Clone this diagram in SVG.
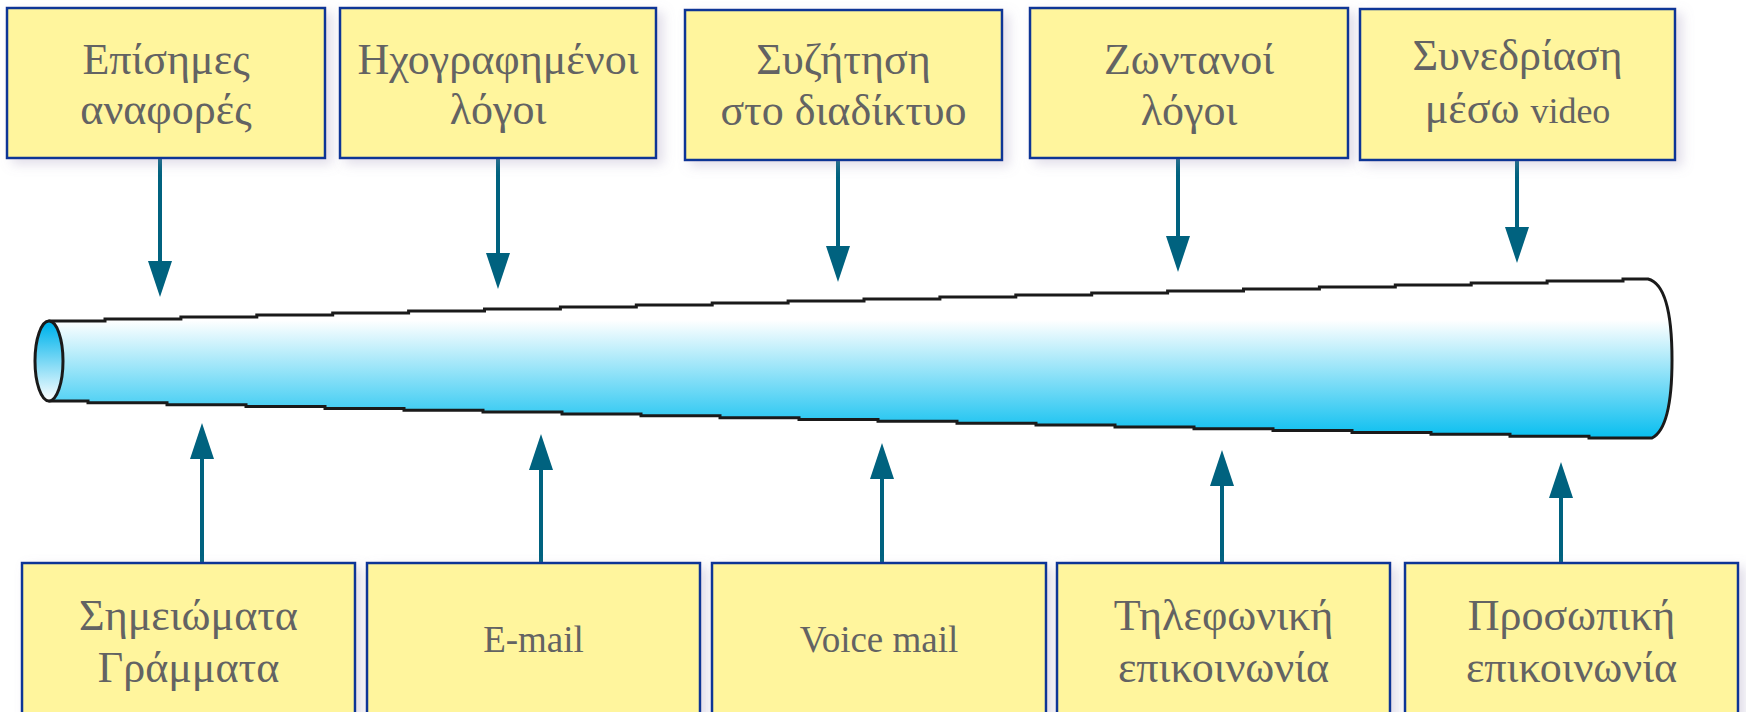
<svg xmlns="http://www.w3.org/2000/svg" width="1746" height="712" viewBox="0 0 1746 712">
<style>
.box{fill:#fff59d;stroke:#0a3596;stroke-width:2.5}
.gr{font-family:"Liberation Serif","DejaVu Serif",serif;font-size:44px;fill:#636363;text-anchor:middle}
.la{font-family:"Liberation Serif","DejaVu Serif",serif;font-size:37px;fill:#636363;text-anchor:middle}
.conn{stroke:#00627f;stroke-width:4;fill:none;marker-end:url(#ah)}
</style>
<defs>
<marker id="ah" markerUnits="userSpaceOnUse" markerWidth="36" markerHeight="24" viewBox="0 0 36 24" refX="28" refY="12" orient="auto">
<path d="M0,0 L36,12 L0,24 Z" fill="#00627f"/>
</marker>
<linearGradient id="tubeg" gradientUnits="userSpaceOnUse" x1="0" y1="320" x2="0" y2="442">
<stop offset="0" stop-color="#ffffff"/>
<stop offset="1" stop-color="#00bcef"/>
</linearGradient>
<linearGradient id="endg" x1="0" y1="0" x2="0" y2="1">
<stop offset="0.05" stop-color="#00b4ec"/>
<stop offset="1" stop-color="#ffffff"/>
</linearGradient>
<filter id="sh" x="-10%" y="-10%" width="125%" height="130%">
<feGaussianBlur in="SourceAlpha" stdDeviation="6"/>
<feOffset dx="6" dy="5" result="b"/>
<feFlood flood-color="#9a8fb5" flood-opacity="0.3"/>
<feComposite in2="b" operator="in"/>
<feMerge><feMergeNode/><feMergeNode in="SourceGraphic"/></feMerge>
</filter>
</defs>

<g id="tube">
<path d="M50,321 H105 V319 H180.9 V317 H256.8 V315 H332.7 V313 H408.6 V311 H484.5 V309 H560.4 V307 H636.3 V305 H712.2 V303 H788.1 V301 H864 V299 H939.9 V297 H1015.8 V295 H1091.7 V293 H1167.6 V291 H1243.5 V289 H1319.4 V287 H1395.3 V285 H1471.2 V283 H1547.1 V281 H1623 V279 H1648 C1664,283 1672,310 1672,360 C1672,410 1664,432 1652,438 H1589 V436.15 H1510 V434.3 H1431 V432.45 H1352 V430.6 H1273 V428.75 H1194 V426.9 H1115 V425.05 H1036 V423.2 H957 V421.35 H878 V419.5 H799 V417.65 H720 V415.8 H641 V413.95 H562 V412.1 H483 V410.25 H404 V408.4 H325 V406.55 H246 V404.7 H167 V402.85 H88 V401 H50 Z" fill="url(#tubeg)" stroke="#1a1a1a" stroke-width="3" stroke-linejoin="miter"/>
<ellipse cx="49" cy="361" rx="14" ry="40" fill="url(#endg)" stroke="#1a1a1a" stroke-width="3"/>
</g>

<g id="connectors">
<line class="conn" x1="160" y1="159" x2="160" y2="289"/>
<line class="conn" x1="498" y1="159" x2="498" y2="281"/>
<line class="conn" x1="838" y1="161" x2="838" y2="274"/>
<line class="conn" x1="1178" y1="159" x2="1178" y2="264"/>
<line class="conn" x1="1517" y1="161" x2="1517" y2="255"/>
<line class="conn" x1="202" y1="562" x2="202" y2="431"/>
<line class="conn" x1="541" y1="562" x2="541" y2="442"/>
<line class="conn" x1="882" y1="562" x2="882" y2="451"/>
<line class="conn" x1="1222" y1="562" x2="1222" y2="458"/>
<line class="conn" x1="1561" y1="562" x2="1561" y2="470"/>
</g>

<g id="n-episimes">
<rect class="box" x="7" y="8" width="318" height="150" filter="url(#sh)"/>
<text class="gr" x="166" y="74">Επίσημες</text>
<text class="gr" x="166" y="124">αναφορές</text>
</g>
<g id="n-ichografimenoi">
<rect class="box" x="340" y="8" width="316" height="150" filter="url(#sh)"/>
<text class="gr" x="498" y="74">Ηχογραφημένοι</text>
<text class="gr" x="498" y="124">λόγοι</text>
</g>
<g id="n-syzitisi">
<rect class="box" x="685" y="10" width="317" height="150" filter="url(#sh)"/>
<text class="gr" x="843.5" y="74">Συζήτηση</text>
<text class="gr" x="843.5" y="125">στο διαδίκτυο</text>
</g>
<g id="n-zontanoi">
<rect class="box" x="1030" y="8" width="318" height="150" filter="url(#sh)"/>
<text class="gr" x="1189" y="74">Ζωντανοί</text>
<text class="gr" x="1189" y="125">λόγοι</text>
</g>
<g id="n-synedriasi">
<rect class="box" x="1360" y="9" width="315" height="151" filter="url(#sh)"/>
<text class="gr" x="1517.5" y="70">Συνεδρίαση</text>
<text class="gr" x="1517.5" y="123">μέσω <tspan font-size="36">video</tspan></text>
</g>

<g id="n-simeiomata">
<rect class="box" x="22" y="563" width="333" height="160" filter="url(#sh)"/>
<text class="gr" x="188.5" y="630">Σημειώματα</text>
<text class="gr" x="188.5" y="682">Γράμματα</text>
</g>
<g id="n-email">
<rect class="box" x="367" y="563" width="333" height="160" filter="url(#sh)"/>
<text class="la" x="533.5" y="652">E-mail</text>
</g>
<g id="n-voicemail">
<rect class="box" x="712" y="563" width="334" height="160" filter="url(#sh)"/>
<text class="la" x="879" y="652">Voice mail</text>
</g>
<g id="n-tilefoniki">
<rect class="box" x="1057" y="563" width="333" height="160" filter="url(#sh)"/>
<text class="gr" x="1223.5" y="630">Τηλεφωνική</text>
<text class="gr" x="1223.5" y="682">επικοινωνία</text>
</g>
<g id="n-prosopiki">
<rect class="box" x="1405" y="563" width="333" height="160" filter="url(#sh)"/>
<text class="gr" x="1571.5" y="630">Προσωπική</text>
<text class="gr" x="1571.5" y="682">επικοινωνία</text>
</g>
</svg>
